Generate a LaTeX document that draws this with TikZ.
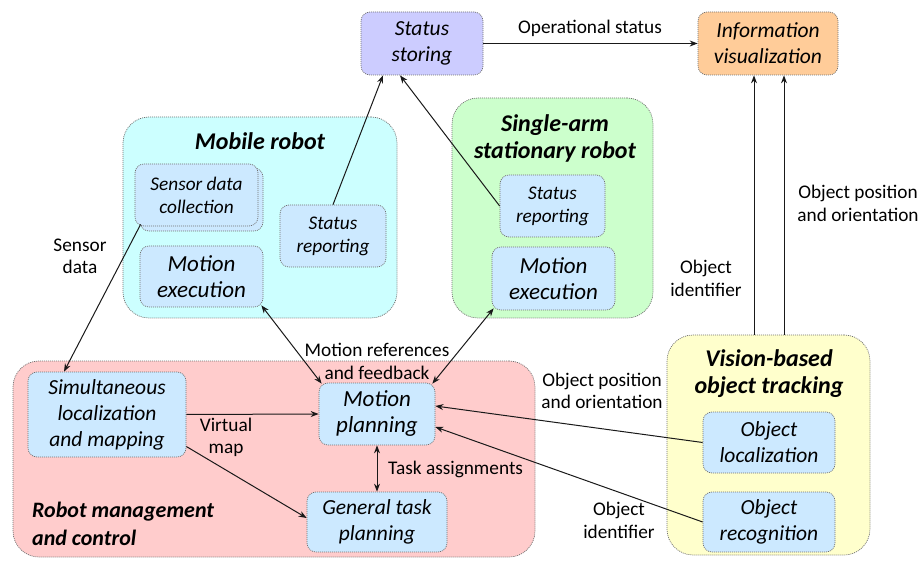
\documentclass[tikz,border=0pt]{standalone}
\usepackage{fontspec}
\setmainfont{Carlito}
\usetikzlibrary{arrows.meta,calc}
\definecolor{cyanfill}{HTML}{CCFFFF}
\definecolor{greenfill}{HTML}{CCFFCC}
\definecolor{pinkfill}{HTML}{FFCCCC}
\definecolor{yellowfill}{HTML}{FFFFCC}
\definecolor{innerfill}{HTML}{CCE9FF}
\definecolor{purplefill}{HTML}{CCCCFF}
\definecolor{orangefill}{HTML}{FFCC99}
\definecolor{bordergray}{HTML}{707070}
\tikzset{
  dotbox/.style={draw=bordergray, dash pattern=on 1pt off 1pt, line width=0.7pt, align=center, inner sep=0pt},
  container/.style={dotbox, rounded corners=26pt},
  inbox/.style={dotbox, rounded corners=9pt, fill=innerfill, font=\fontsize{21.5}{26}\selectfont\itshape},
  bigtext/.style={font=\fontsize{23}{26}\selectfont\itshape},
  smalltext/.style={font=\fontsize{19.3}{23}\selectfont\itshape},
  title/.style={align=center, inner sep=0pt, font=\fontsize{24}{27}\selectfont\bfseries\itshape},
  lab/.style={align=center, inner sep=0pt, font=\fontsize{19.3}{22.5}\selectfont},
  conn/.style={draw=black!90, line width=1pt, -{Stealth[length=8pt,width=6pt]}},
  dconn/.style={draw=black!90, line width=1pt, {Stealth[length=8pt,width=6pt]}-{Stealth[length=8pt,width=6pt]}}
}
\begin{document}
\begin{tikzpicture}[x=1pt,y=-1pt]
\useasboundingbox (0,0) rectangle (921,561);
% top boxes
\node[inbox, fill=purplefill, minimum width=122pt, minimum height=63pt] (ss) at (422,43.5) {Status\\storing};
\node[inbox, fill=orangefill, minimum width=140pt, minimum height=63pt] (iv) at (768,43.5) {Information\\visualization};
% containers
\node[container, fill=cyanfill, minimum width=274pt, minimum height=201pt] (mob) at (260,217.5) {};
\node[container, fill=greenfill, minimum width=201pt, minimum height=220pt] (arm) at (552.5,208) {};
\node[container, fill=pinkfill, minimum width=522pt, minimum height=196pt] (rmc) at (274,459) {};
\node[container, fill=yellowfill, minimum width=203pt, minimum height=220pt] (vt) at (768.5,445) {};
% titles
\node[title] (tmob) at (260,141) {Mobile robot};
\node[title] (tarm) at (555,138.5) {Single-arm\\stationary robot};
\node[title, align=left, anchor=west, font=\fontsize{22}{27.5}\selectfont\bfseries\itshape] (trmc) at (32,524) {Robot management\\and control};
\node[title] (tvt) at (769,373.5) {Vision-based\\object tracking};
% mobile robot inner
\node[inbox, minimum width=123pt, minimum height=63pt] (sdcb) at (201.5,199.5) {};
\node[inbox, smalltext, minimum width=123pt, minimum height=62pt] (sdc) at (196.5,195) {Sensor data\\collection};
\node[inbox, smalltext, minimum width=106pt, minimum height=62pt] (srm) at (333,236) {Status\\reporting};
\node[inbox, bigtext, minimum width=123pt, minimum height=61pt] (mem) at (201.5,276.5) {Motion\\execution};
% arm inner
\node[inbox, smalltext, minimum width=105pt, minimum height=62pt] (sra) at (552.5,206) {Status\\reporting};
\node[inbox, bigtext, minimum width=123pt, minimum height=63pt] (mea) at (553.5,278.5) {Motion\\execution};
% robot management inner
\node[inbox, minimum width=158pt, minimum height=85pt] (slam) at (107,414.5) {Simultaneous\\localization\\and mapping};
\node[inbox, bigtext, minimum width=116pt, minimum height=62pt] (mp) at (377,414) {Motion\\planning};
\node[inbox, minimum width=140pt, minimum height=60pt] (gtp) at (377,522) {General task\\planning};
% vision inner
\node[inbox, minimum width=132pt, minimum height=61pt] (ol) at (769,442.5) {Object\\localization};
\node[inbox, minimum width=132pt, minimum height=60pt] (or) at (769,522) {Object\\recognition};
% connectors
\draw[conn] (ss.east) -- (iv.west);
\draw[conn] ([xshift=6pt,yshift=2pt]sdc.south west) -- ([xshift=-43pt]slam.north);
\draw[conn] (srm.north) -- ([xshift=-39pt]ss.south);
\draw[conn] (sra.west) -- ([xshift=-22pt]ss.south);
\draw[dconn] ([xshift=-2pt,yshift=2pt]mem.south east) -- ([xshift=3pt,yshift=-1pt]mp.north west);
\draw[dconn] ([xshift=2pt,yshift=2pt]mea.south west) -- ([xshift=-3pt,yshift=-1pt]mp.north east);
\draw[conn] (slam.east) -- (mp.west);
\draw[conn] ([yshift=-32pt]slam.east) -- ([yshift=4pt]gtp.west);
\draw[dconn] (mp.south) -- (gtp.north);
\draw[conn] (ol.west) -- ([yshift=8pt]mp.east);
\draw[conn] (or.west) -- ([yshift=-13pt]mp.east);
\draw[conn] ([xshift=-14.5pt]vt.north) -- ([xshift=-14pt]iv.south);
\draw[conn] ([xshift=15.5pt]vt.north) -- ([xshift=16pt]iv.south);
% labels
\node[lab] (l1) at (590,28) {Operational status};
\node[lab] (l2) at (80,256.5) {Sensor\\data};
\node[lab] (l3) at (377,361.5) {Motion references\\and feedback};
\node[lab] (l4) at (226,437.5) {Virtual\\map};
\node[lab, anchor=west] (l5) at (388,469) {Task assignments};
\node[lab] (l6) at (602,391) {Object position\\and orientation};
\node[lab] (l7) at (619,520.5) {Object\\identifier};
\node[lab] (l8) at (706,278.5) {Object\\identifier};
\node[lab] (l9) at (858,203.5) {Object position\\and orientation};
\end{tikzpicture}
\end{document}
